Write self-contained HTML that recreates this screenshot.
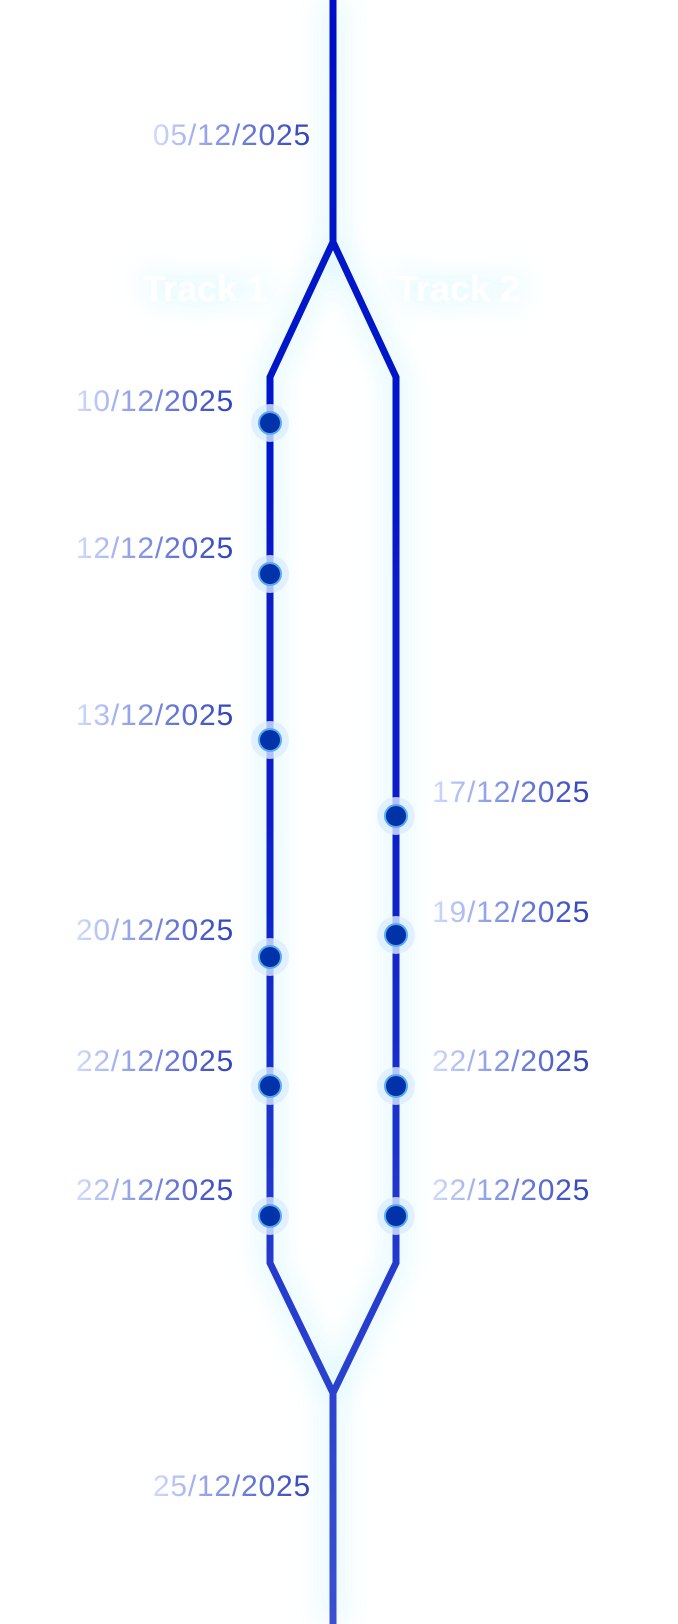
<!DOCTYPE html>
<html><head><meta charset="utf-8"><style>
html,body{margin:0;padding:0;background:#fff;}
svg{display:block;}
text{font-family:"Liberation Sans",sans-serif;}
.d{font-size:30px;letter-spacing:0.8px;}
</style></head><body>
<svg width="678" height="1624" viewBox="0 0 678 1624" xmlns="http://www.w3.org/2000/svg">
<defs>
<linearGradient id="lg" x1="0" y1="0" x2="0" y2="1624" gradientUnits="userSpaceOnUse">
<stop offset="0" stop-color="#0010c8"/><stop offset="0.5" stop-color="#0a1ec8"/><stop offset="1" stop-color="#3a50d2"/>
</linearGradient>
<filter id="glow" x="-50%" y="-10%" width="200%" height="120%">
<feGaussianBlur stdDeviation="14" in="SourceAlpha" result="b"/>
<feFlood flood-color="#c8f4ff" flood-opacity="0.85"/>
<feComposite in2="b" operator="in" result="g"/>
<feMerge><feMergeNode in="g"/><feMergeNode in="g"/><feMergeNode in="SourceGraphic"/></feMerge>
</filter>
<filter id="tglow" x="-40%" y="-80%" width="180%" height="260%">
<feGaussianBlur stdDeviation="14" in="SourceAlpha" result="b"/>
<feFlood flood-color="#d8f8ff" flood-opacity="1"/>
<feComposite in2="b" operator="in" result="g"/>
<feMerge><feMergeNode in="g"/><feMergeNode in="g"/><feMergeNode in="SourceGraphic"/></feMerge>
</filter>
<linearGradient id="tg" x1="0" y1="0" x2="1" y2="0">
<stop offset="0" stop-color="#d0dcff"/><stop offset="0.45" stop-color="#8092e4"/><stop offset="1" stop-color="#2e40bc"/>
</linearGradient>
</defs>
<g filter="url(#glow)" fill="none" stroke="url(#lg)" stroke-width="7" stroke-linejoin="miter">
<path d="M333 0 V242 L270 377 V1263 L333 1393 V1624"/>
<path d="M333 242 L396 377 V1263 L333 1393"/>
</g>
<g filter="url(#tglow)" fill="#fff" font-weight="bold" font-size="36">
<text x="205" y="301" text-anchor="middle">Track 1</text>
<text x="458" y="301" text-anchor="middle">Track 2</text>
</g>
<g>
<g transform="translate(270,423)"><circle r="19" fill="#dcecff" opacity="0.8"/><circle r="12" fill="#5aaaf0"/><circle r="10" fill="#0033aa"/></g>
<g transform="translate(270,574)"><circle r="19" fill="#dcecff" opacity="0.8"/><circle r="12" fill="#5aaaf0"/><circle r="10" fill="#0033aa"/></g>
<g transform="translate(270,740)"><circle r="19" fill="#dcecff" opacity="0.8"/><circle r="12" fill="#5aaaf0"/><circle r="10" fill="#0033aa"/></g>
<g transform="translate(270,957)"><circle r="19" fill="#dcecff" opacity="0.8"/><circle r="12" fill="#5aaaf0"/><circle r="10" fill="#0033aa"/></g>
<g transform="translate(270,1086)"><circle r="19" fill="#dcecff" opacity="0.8"/><circle r="12" fill="#5aaaf0"/><circle r="10" fill="#0033aa"/></g>
<g transform="translate(270,1216)"><circle r="19" fill="#dcecff" opacity="0.8"/><circle r="12" fill="#5aaaf0"/><circle r="10" fill="#0033aa"/></g>
<g transform="translate(396,816)"><circle r="19" fill="#dcecff" opacity="0.8"/><circle r="12" fill="#5aaaf0"/><circle r="10" fill="#0033aa"/></g>
<g transform="translate(396,935)"><circle r="19" fill="#dcecff" opacity="0.8"/><circle r="12" fill="#5aaaf0"/><circle r="10" fill="#0033aa"/></g>
<g transform="translate(396,1086)"><circle r="19" fill="#dcecff" opacity="0.8"/><circle r="12" fill="#5aaaf0"/><circle r="10" fill="#0033aa"/></g>
<g transform="translate(396,1216)"><circle r="19" fill="#dcecff" opacity="0.8"/><circle r="12" fill="#5aaaf0"/><circle r="10" fill="#0033aa"/></g>
</g>
<g class="d" fill="url(#tg)">
<text x="311" y="145" text-anchor="end">05/12/2025</text>
<text x="234" y="411" text-anchor="end">10/12/2025</text>
<text x="234" y="558" text-anchor="end">12/12/2025</text>
<text x="234" y="725" text-anchor="end">13/12/2025</text>
<text x="234" y="940" text-anchor="end">20/12/2025</text>
<text x="234" y="1071" text-anchor="end">22/12/2025</text>
<text x="234" y="1200" text-anchor="end">22/12/2025</text>
<text x="432" y="802">17/12/2025</text>
<text x="432" y="922">19/12/2025</text>
<text x="432" y="1071">22/12/2025</text>
<text x="432" y="1200">22/12/2025</text>
<text x="311" y="1496" text-anchor="end">25/12/2025</text>
</g>
</svg>
</body></html>
